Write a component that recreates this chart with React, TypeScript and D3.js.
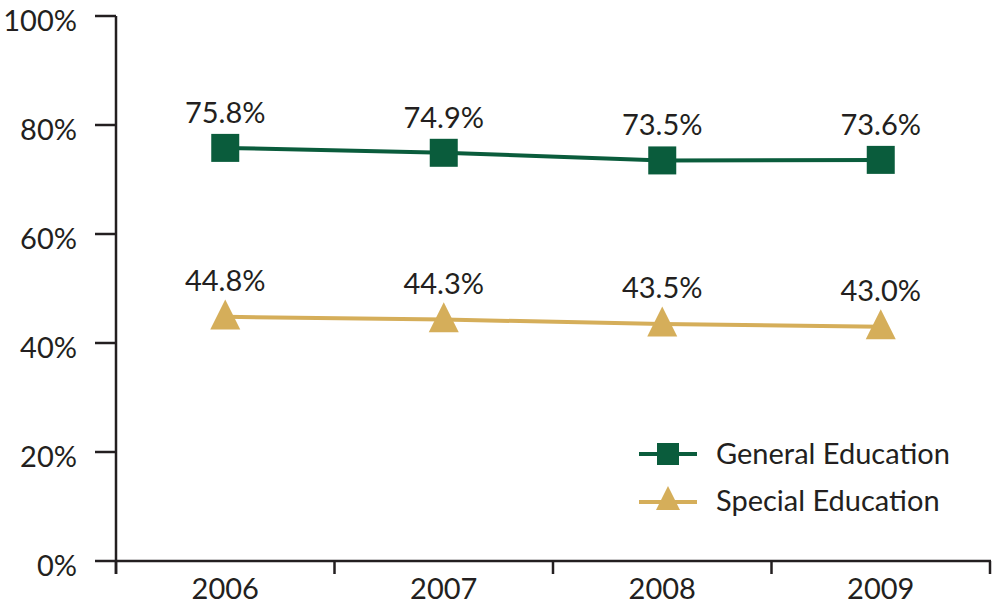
import React from "react";
import * as d3 from "d3";

const years = ["2006", "2007", "2008", "2009"];
const generalEducation = [75.8, 74.9, 73.5, 73.6];
const specialEducation = [44.8, 44.3, 43.5, 43.0];
const yTicks = [0, 20, 40, 60, 80, 100];
const seriesNames = ["General Education", "Special Education"];

const W = 993;
const H = 605;
const FONT = "Lato, 'Open Sans', sans-serif";
const GREEN = "#0a5c3c";
const GOLD = "#d5ae5a";
const TEXT = "#231f20";

export default function App() {
  const x = d3.scaleBand<string>().domain(years).range([116, 990]).padding(0);
  const y = d3.scaleLinear().domain([0, 100]).range([561, 16]);
  const cx = (yr: string) => (x(yr) as number) + x.bandwidth() / 2;

  const line = d3
    .line<number>()
    .x((_, i) => cx(years[i]))
    .y((d) => y(d));

  const tri = (px: number, py: number, s: number) => {
    const h = s;
    return `M${px},${py - h * 0.58} L${px + s / 2},${py + h * 0.42} L${px - s / 2},${py + h * 0.42} Z`;
  };

  const boundaries = years.map((yr) => x(yr) as number).concat([990]);

  return (
    <div style={{ position: "absolute", left: 0, top: 0 }}>
      <svg width={W} height={H} style={{ display: "block", background: "#fff" }}>
        {/* y axis */}
        <line x1={116} x2={116} y1={16} y2={574} stroke={TEXT} strokeWidth={2.5} />
        {yTicks.map((t) => (
          <g key={t}>
            <line x1={95} x2={116} y1={y(t)} y2={y(t)} stroke={TEXT} strokeWidth={2.5} />
            <text x={77} y={y(t) + 15} textAnchor="end" fontFamily={FONT} fontSize={29} fill={TEXT}>
              {t}%
            </text>
          </g>
        ))}
        {/* x axis */}
        <line x1={116} x2={991} y1={561} y2={561} stroke={TEXT} strokeWidth={2.5} />
        {boundaries.map((b, i) => (
          <line key={i} x1={b} x2={b} y1={561} y2={574} stroke={TEXT} strokeWidth={2.5} />
        ))}
        {years.map((yr) => (
          <text key={yr} x={cx(yr)} y={599} textAnchor="middle" fontFamily={FONT} fontSize={29} fill={TEXT}>
            {yr}
          </text>
        ))}

        {/* general education */}
        <path d={line(generalEducation) as string} fill="none" stroke={GREEN} strokeWidth={4} />
        {generalEducation.map((v, i) => (
          <g key={"g" + i}>
            <rect x={cx(years[i]) - 14} y={y(v) - 14} width={28} height={28} fill={GREEN} />
            <text x={cx(years[i])} y={y(v) - 25} textAnchor="middle" fontFamily={FONT} fontSize={29} fill={TEXT}>
              {v.toFixed(1)}%
            </text>
          </g>
        ))}

        {/* special education */}
        <path d={line(specialEducation) as string} fill="none" stroke={GOLD} strokeWidth={4} />
        {specialEducation.map((v, i) => (
          <g key={"s" + i}>
            <path d={tri(cx(years[i]), y(v), 30)} fill={GOLD} />
            <text x={cx(years[i])} y={y(v) - 26} textAnchor="middle" fontFamily={FONT} fontSize={29} fill={TEXT}>
              {v.toFixed(1)}%
            </text>
          </g>
        ))}

        {/* legend */}
        <g>
          <line x1={639} x2={697} y1={454} y2={454} stroke={GREEN} strokeWidth={4} />
          <rect x={657} y={443} width={22} height={22} fill={GREEN} />
          <text x={716} y={464} fontFamily={FONT} fontSize={29} fill={TEXT}>
            {seriesNames[0]}
          </text>
          <line x1={639} x2={697} y1={502} y2={502} stroke={GOLD} strokeWidth={4} />
          <path d={tri(668, 500, 24)} fill={GOLD} />
          <text x={716} y={511} fontFamily={FONT} fontSize={29} fill={TEXT}>
            {seriesNames[1]}
          </text>
        </g>
      </svg>
    </div>
  );
}
